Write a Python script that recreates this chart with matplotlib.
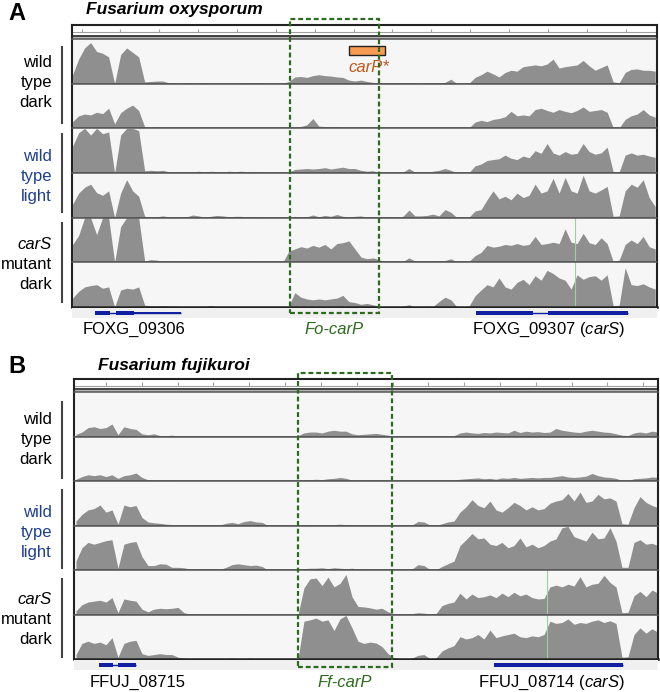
import numpy as np
import matplotlib.pyplot as plt
from matplotlib.patches import Rectangle
from matplotlib.transforms import blended_transform_factory

plt.rcParams['font.family'] = ['Liberation Sans', 'DejaVu Sans']
plt.rcParams['mathtext.fontset'] = 'custom'
plt.rcParams['mathtext.rm'] = 'Liberation Sans'
plt.rcParams['mathtext.it'] = 'Liberation Sans:italic'

# read coverage, % of track height, one value per bin (98 bins across the window)
fo_wt_dark_1 = [20, 55, 80, 92, 72, 68, 60, 0, 65, 80, 70, 60,
                4, 5, 6, 6, 2,
                1, 0, 1, 0, 0, 1, 0, 0, 1, 0, 0, 1, 0,
                2, 2, 0, 0, 0, 0,
                5, 15, 16, 14, 18, 20, 18, 17, 15, 14, 8, 6, 8,
                5, 3, 2, 1, 1, 1, 2, 2, 1, 0, 1, 1, 1, 3, 10, 0, 0, 1,
                14, 20, 28, 22, 15, 25, 30, 28, 38, 40, 42, 40, 44, 55, 35, 38, 40, 42, 52, 40,
                30, 36, 42, 4, 2, 25, 32, 33, 30, 30, 28]
fo_wt_dark_2 = [15, 28, 32, 30, 36, 33, 45, 10, 35, 45, 52, 40,
                3, 2, 3, 2, 3,
                1, 2, 1, 0, 1, 0, 0, 1, 0, 1, 0, 1, 0, 1, 0, 0, 0, 0, 0,
                0, 2, 4, 8, 22, 5, 4, 3, 4, 2, 1, 1, 0,
                2, 1, 1, 0, 0, 1, 0, 1, 2, 1, 0, 0, 1, 2, 2, 0, 0, 1,
                14, 18, 15, 20, 22, 26, 38, 28, 30, 28, 42, 45, 40, 36, 42, 38, 35, 40, 48, 38,
                40, 42, 36, 2, 1, 20, 28, 32, 42, 30, 25]
fo_wt_light_1 = [60, 90, 100, 85, 100, 88, 92, 0, 85, 100, 100, 95,
                 5, 6, 5, 6, 3, 2, 3, 1, 2, 4, 2, 4, 3, 2, 4, 3, 4, 3, 3, 1, 0, 0, 0, 0,
                 2, 8, 9, 10, 9, 10, 12, 9, 11, 13, 10, 10, 6,
                 4, 5, 1, 0, 0, 1, 2, 10, 2, 2, 1, 4, 6, 10, 6, 0, 0, 1,
                 16, 20, 28, 30, 32, 40, 33, 30, 38, 34, 50, 44, 66, 45, 40, 48, 42, 44, 66, 48,
                 42, 45, 58, 3, 2, 40, 45, 40, 42, 38, 35]
fo_wt_light_2 = [30, 55, 68, 75, 56, 50, 60, 0, 55, 85, 60, 48,
                 3, 2, 2, 4, 2, 1, 2, 2, 6, 4, 1, 3, 5, 4, 2, 3, 3, 2, 2, 2, 0, 0, 0, 0,
                 1, 3, 1, 2, 6, 2, 5, 3, 7, 3, 2, 3, 4,
                 1, 1, 0, 1, 1, 0, 3, 17, 4, 4, 5, 8, 4, 18, 12, 0, 0, 1,
                 15, 18, 40, 60, 42, 48, 40, 55, 45, 50, 75, 55, 60, 88, 55, 90, 60, 55, 95, 60,
                 55, 62, 70, 3, 4, 60, 75, 68, 85, 45, 25]
fo_cars_dark_1 = [40, 60, 100, 100, 62, 100, 100, 0, 80, 100, 100, 100,
                  3, 6, 5, 2, 3, 1, 2, 3, 1, 3, 4, 3, 2, 3, 2, 3, 2, 2, 3, 2, 0, 0, 0, 0,
                  25, 30, 35, 32, 38, 34, 40, 30, 42, 44, 48, 30, 12,
                  8, 10, 6, 1, 0, 1, 2, 10, 3, 1, 2, 2, 3, 4, 8, 1, 1, 2,
                  15, 22, 38, 34, 36, 40, 38, 42, 38, 40, 58, 40, 42, 45, 42, 75, 45, 42, 65, 44,
                  40, 55, 42, 2, 5, 40, 50, 42, 58, 35, 30]
fo_cars_dark_2 = [20, 35, 45, 48, 50, 42, 45, 0, 38, 42, 40, 45,
                  4, 3, 2, 3, 2, 2, 1, 1, 1, 1, 1, 3, 1, 1, 1, 1, 1, 0, 1, 1, 0, 0, 0, 0,
                  2, 32, 22, 18, 16, 18, 16, 18, 20, 26, 12, 10, 6,
                  8, 5, 2, 1, 1, 0, 2, 5, 1, 1, 2, 1, 12, 22, 16, 0, 0, 2,
                  25, 38, 50, 45, 65, 45, 40, 55, 62, 50, 70, 60, 82, 75, 65, 60, 40, 72, 62, 68,
                  70, 60, 72, 3, 4, 88, 50, 48, 52, 45, 40]

ff_wt_dark_1 = [5, 10, 20, 22, 18, 20, 28, 4, 22, 18, 16, 6, 4, 6, 2, 2, 3, 1,
                1, 0, 1, 1, 0, 1, 1, 0, 1, 0, 1, 1, 0, 1, 0, 0, 1, 0, 1,
                2, 8, 10, 10, 8, 12, 14, 12, 12, 6, 4, 5,
                6, 7, 5, 3, 1, 0, 1, 1, 0, 1, 1, 0, 1, 1, 2, 8, 10, 8, 7, 9,
                8, 10, 9, 8, 14, 9, 12, 10, 11, 9, 10, 18, 14, 12, 10, 9, 12, 14, 12, 10,
                9, 6, 3, 2, 8, 10, 8, 12, 10]
ff_wt_dark_2 = [4, 10, 14, 12, 14, 10, 14, 6, 12, 14, 18, 8, 3, 2, 2, 2, 2, 1,
                1, 1, 0, 1, 1, 0, 0, 1, 1, 0, 1, 0, 1, 1, 0, 0, 1, 0, 1,
                1, 3, 3, 4, 3, 5, 6, 8, 6, 2, 1, 2,
                3, 2, 3, 1, 1, 0, 1, 0, 1, 1, 0, 1, 1, 1, 2, 4, 5, 6, 7, 5,
                6, 4, 7, 6, 8, 6, 7, 8, 7, 8, 8, 10, 12, 9, 8, 9, 11, 17, 12, 9,
                8, 6, 1, 1, 5, 6, 7, 9, 8]
ff_wt_light_1 = [10, 25, 35, 38, 46, 30, 35, 3, 46, 42, 45, 18,
                 8, 6, 5, 3, 2, 1, 2, 1, 1, 1, 1, 1, 1, 5, 7, 4, 9, 11, 8, 7, 0, 0, 0, 0, 0,
                 1, 2, 2, 1, 2, 1, 2, 3, 2, 1, 2, 1,
                 1, 1, 0, 1, 1, 0, 1, 1, 9, 8, 1, 0, 4, 8, 10,
                 30, 42, 58, 45, 40, 55, 35, 30, 40, 52, 45, 35, 42,
                 35, 38, 50, 55, 58, 72, 55, 75, 52, 55, 70, 60, 62, 55,
                 4, 3, 40, 65, 52, 45, 40]
ff_wt_light_2 = [20, 50, 62, 58, 62, 66, 68, 4, 58, 62, 64, 30,
                 10, 10, 14, 13, 6, 6, 5, 2, 1, 2, 1, 2, 1, 6, 12, 14, 12, 10, 11, 8, 0, 0, 0, 0, 0,
                 2, 3, 4, 4, 5, 3, 5, 4, 3, 4, 2, 2,
                 1, 1, 1, 0, 1, 0, 1, 2, 12, 10, 1, 0, 8, 14, 20, 55, 68, 82, 70, 72,
                 58, 55, 62, 50, 55, 72, 52, 58, 50, 55, 65, 70, 95, 98, 75, 70, 65, 85, 70, 72,
                 95, 65, 6, 6, 62, 68, 58, 60, 55]
ff_cars_dark_1 = [8, 22, 28, 30, 32, 28, 38, 4, 35, 32, 30, 12, 6, 12, 14, 13, 14, 16,
                  4, 1, 2, 1, 1, 2, 1, 1, 2, 1, 2, 1, 1, 2, 1, 0, 0, 0, 0, 0,
                  60, 80, 82, 65, 84, 62, 70, 90, 40, 18, 17,
                  15, 12, 14, 6, 2, 1, 1, 2, 4, 3, 1, 2, 20, 25, 28, 48, 35, 46, 38, 40,
                  44, 38, 48, 40, 50, 42, 46, 38, 35, 36, 62, 66, 62, 68, 64, 85, 62, 68, 70, 88,
                  72, 62, 4, 5, 42, 52, 40, 55, 48]
ff_cars_dark_2 = [10, 35, 40, 35, 38, 32, 48, 4, 35, 40, 42, 12, 8, 10, 12, 10, 10, 4,
                  2, 1, 1, 1, 1, 1, 1, 1, 2, 1, 1, 2, 1, 1, 1, 0, 0, 0, 0, 0,
                  85, 88, 92, 85, 88, 64, 90, 98, 70, 40, 35,
                  38, 36, 28, 12, 3, 1, 1, 2, 8, 10, 1, 2, 18, 25, 30, 50, 45, 48, 55, 45,
                  65, 48, 52, 55, 58, 50, 48, 52, 50, 55, 85, 80, 82, 90, 78, 82, 80, 85, 88, 82,
                  86, 80, 4, 5, 55, 70, 58, 68, 60]

fo_tracks = [fo_wt_dark_1, fo_wt_dark_2, fo_wt_light_1, fo_wt_light_2, fo_cars_dark_1, fo_cars_dark_2]
ff_tracks = [ff_wt_dark_1, ff_wt_dark_2, ff_wt_light_1, ff_wt_light_2, ff_cars_dark_1, ff_cars_dark_2]

# annotations, in bin units
fo_gene_exons = [[(3.8, 6.2), (7.3, 10.3)], [(67.2, 76.7), (79.2, 92.5)]]
fo_gene_utrs = [[(10.3, 18.0)], []]
fo_gene_names = ['FOXG_09306', 'FOXG_09307 ($\\mathit{carS}$)']
fo_gene_label_x = [10.25, 79.2]
fo_carp = (36.2, 51.0)
fo_carp_star = (46.0, 52.0)
fo_snp = 83.7

ff_gene_exons = [[(3.8, 6.2), (7.0, 10.0)], [(69.7, 91.2)]]
ff_gene_utrs = [[], []]
ff_gene_names = ['FFUJ_08715', 'FFUJ_08714 ($\\mathit{carS}$)']
ff_gene_label_x = [10.3, 79.3]
ff_carp = (37.0, 52.7)
ff_snp = 78.5

group_lines = [['wild', 'type', 'dark'], ['wild', 'type', 'light'], ['carS', 'mutant', 'dark']]
group_colors = ['black', '#1f3f8f', 'black']

W, H = 660, 692
fig = plt.figure(figsize=(W / 100, H / 100), dpi=100)

FILL = '#8f8f8f'
BG = '#f6f6f6'
GREEN = '#2c6a1e'
GENE_BLUE = '#1020a0'


def px_axes(x, y, w, h):
    return fig.add_axes([x / W, 1 - (y + h) / H, w / W, h / H])


def fy(ypx):
    return 1 - ypx / H


def draw_panel(letter, title, tracks, left, right, top, ruler_h, track_h, xlim,
               tick_start, tick_step, gene_exons, gene_utrs, gene_names, gene_label_x,
               carp, carp_label, box_y, snp, label_base, bars, title_y, letter_y, gene_text_y):
    width = right - left
    # ruler
    rax = px_axes(left, top, width, ruler_h)
    rax.set_xlim(*xlim)
    rax.set_ylim(ruler_h, 0)
    rax.set_facecolor('white')
    ticks = np.arange(tick_start, xlim[1], tick_step)
    rax.vlines(ticks, ruler_h * 0.25, ruler_h * 0.52, color='#a0a0a0', lw=0.8)
    rax.axhline(ruler_h * 0.52, color='#a0a0a0', lw=0.8)
    rax.axhline(ruler_h * 0.76, color='#333333', lw=1.3)
    rax.axhspan(ruler_h * 0.82, ruler_h, color='#b5b5b5', lw=0)
    rax.set_xticks([])
    rax.set_yticks([])
    rax.spines['bottom'].set_visible(False)
    for s in ['top', 'left', 'right']:
        rax.spines[s].set_linewidth(1.5)
        rax.spines[s].set_color('#222222')

    bins = np.arange(len(tracks[0]))
    axes = []
    for k, vals in enumerate(tracks):
        ax = px_axes(left, top + ruler_h + k * track_h, width, track_h)
        ax.set_facecolor(BG)
        ax.fill_between(bins, vals, color=FILL, lw=0)
        if k >= 4:
            ax.axvline(snp, color='#9ad39a', lw=0.8)
        ax.set_xlim(*xlim)
        ax.set_ylim(0, 100)
        ax.set_xticks([])
        ax.set_yticks([])
        for s in ['left', 'right']:
            ax.spines[s].set_linewidth(1.5)
            ax.spines[s].set_color('#222222')
        for s in ['top', 'bottom']:
            ax.spines[s].set_linewidth(1.1)
            ax.spines[s].set_color('#555555')
        axes.append(ax)
    axes[-1].spines['bottom'].set_linewidth(1.8)
    axes[-1].spines['bottom'].set_color('#222222')

    bottom = top + ruler_h + 6 * track_h
    gax = px_axes(left, bottom + 1, width, 10)
    gax.set_facecolor('#f0f0f0')
    gax.set_xlim(*xlim)
    gax.set_ylim(0, 1)
    gax.set_xticks([])
    gax.set_yticks([])
    for s in gax.spines.values():
        s.set_visible(False)
    for exons, utrs in zip(gene_exons, gene_utrs):
        ends = [e for seg in exons + utrs for e in seg]
        gax.hlines(0.5, min(ends), max(ends), color=GENE_BLUE, lw=1.0)
        for s0, s1 in exons:
            gax.add_patch(Rectangle((s0, 0.3), s1 - s0, 0.4, color=GENE_BLUE, lw=0))
        for s0, s1 in utrs:
            gax.add_patch(Rectangle((s0, 0.38), s1 - s0, 0.24, color=GENE_BLUE, lw=0))

    tr = blended_transform_factory(axes[0].transData, fig.transFigure)
    for name, gx in zip(gene_names, gene_label_x):
        fig.text(gx, fy(gene_text_y), name, transform=tr, ha='center', va='baseline', fontsize=12)
    fig.text((carp[0] + carp[1]) / 2, fy(gene_text_y), carp_label, transform=tr,
             ha='center', va='baseline', fontsize=12, style='italic', color=GREEN)

    box = Rectangle((carp[0], fy(box_y[1])), carp[1] - carp[0], fy(box_y[0]) - fy(box_y[1]),
                    transform=tr, fill=False, ec=GREEN, lw=1.6, ls=(0, (2.2, 1.3)), zorder=5)
    fig.add_artist(box)

    # sample labels and brackets
    for g, (lines, col) in enumerate(zip(group_lines, group_colors)):
        for j, word in enumerate(lines):
            style = 'italic' if word == 'carS' else 'normal'
            fig.text(52 / W, fy(label_base[g] + 20 * (j - 1)), word, ha='right', va='baseline',
                     fontsize=12, color=col, style=style)
        fig.add_artist(plt.Line2D([62 / W, 62 / W], [fy(bars[g][0]), fy(bars[g][1])],
                                  color='#444444', lw=1.5))

    fig.text(17 / W, fy(letter_y), letter, ha='center', va='baseline', fontsize=17, fontweight='bold')
    fig.text(174 / W, fy(title_y), title, ha='center', va='baseline', fontsize=12.5,
             fontweight='bold', style='italic')
    return axes


fo_axes = draw_panel('A', 'Fusarium oxysporum', fo_tracks, 72, 657, 25, 14, 268 / 6, (-0.1, 97.3),
                     1.5, 6.47, fo_gene_exons, fo_gene_utrs, fo_gene_names, fo_gene_label_x,
                     fo_carp, 'Fo-carP', (19, 313), fo_snp, [87, 181, 269],
                     [(47, 123), (134, 212), (223, 302)], 14, 20, 334)

# carP* feature on the first Fo track
ax0 = fo_axes[0]
tr0 = blended_transform_factory(ax0.transData, fig.transFigure)
fig.add_artist(Rectangle((fo_carp_star[0], fy(55)), fo_carp_star[1] - fo_carp_star[0], fy(46) - fy(55),
                         transform=tr0, fc='#f79a52', ec='#222222', lw=1.0, zorder=4))
fig.text(49.3, fy(71.5), 'carP*', transform=tr0, ha='center', va='baseline', fontsize=12,
         style='italic', color='#c0561a')

draw_panel('B', 'Fusarium fujikuroi', ff_tracks, 74, 658, 379, 13, 267 / 6, (-0.33, 97.0),
           5.0, 5.97, ff_gene_exons, ff_gene_utrs, ff_gene_names, ff_gene_label_x,
           ff_carp, 'Ff-carP', (373, 667), ff_snp, [444, 537, 624],
           [(402, 478), (490, 568), (579, 657)], 370, 373, 687)

fig.savefig('out.png', dpi=100)
